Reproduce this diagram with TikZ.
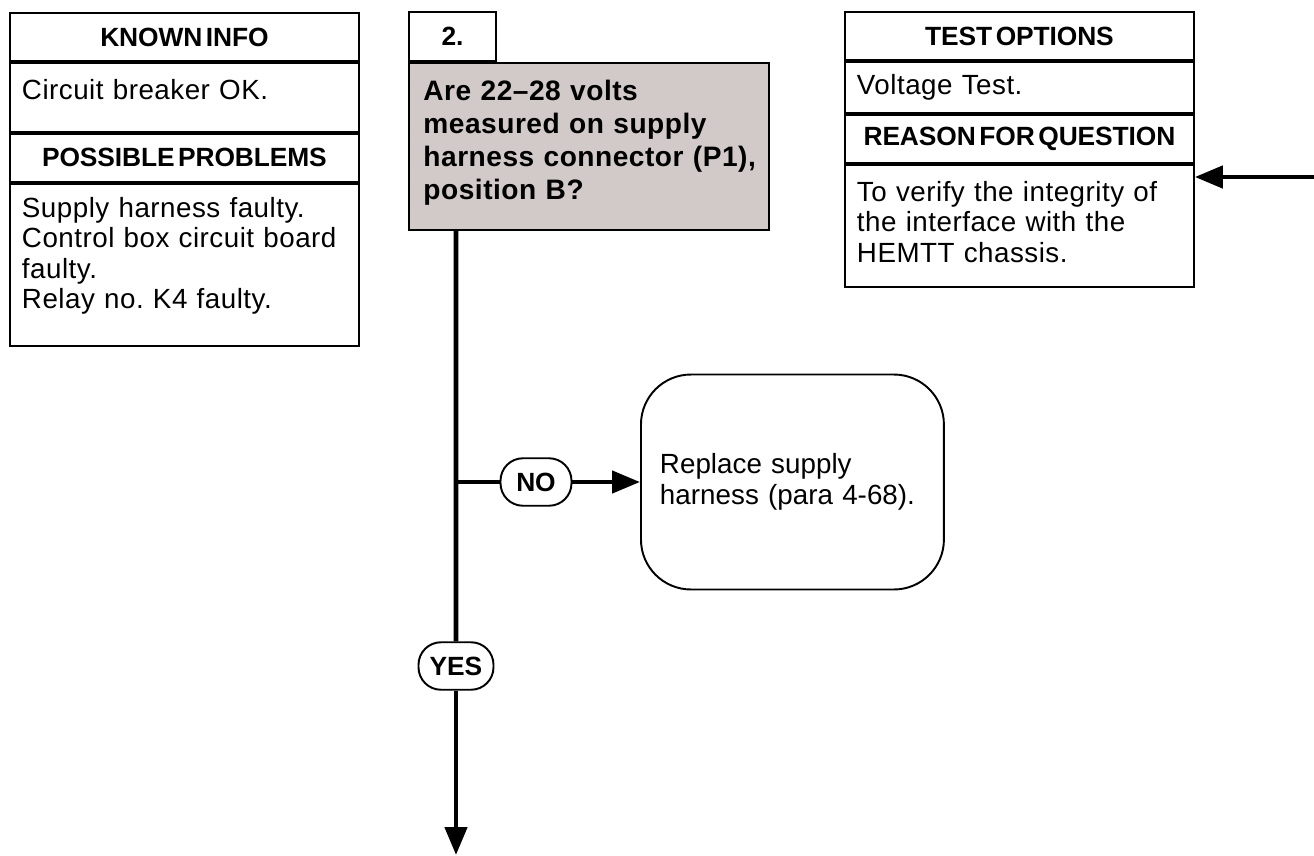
\documentclass[tikz,border=0pt]{standalone}
\usepackage{fontspec}
\setmainfont{Liberation Sans}[LetterSpace=1.8]
\newfontfamily\headfont{Liberation Sans}[WordSpace=0.5, LetterSpace=-0.4]
\newfontfamily\plainfont{Liberation Sans}[LetterSpace=0.1]
\usepackage{tikz}
\usetikzlibrary{positioning,arrows.meta}
\definecolor{qgray}{RGB}{209,202,200}
\frenchspacing

\begin{document}
\begin{tikzpicture}[x=0.02cm, y=-0.02cm, >={Triangle[length=0.56cm,width=0.44cm]},
        cell/.style={draw, line width=1.1pt, minimum width=6.98cm, inner sep=0pt},
        head/.style={cell, minimum height=0.96cm, font=\headfont\bfseries\fontsize{15pt}{18pt}\selectfont},
        body/.style={cell, text width=6.5cm, align=left, font=\fontsize{15.8pt}{17.4pt}\selectfont},
        tag/.style={draw, line width=1.1pt, rounded corners=0.45cm, minimum height=0.95cm, inner sep=0pt, font=\headfont\bfseries\fontsize{15pt}{18pt}\selectfont},
        flow/.style={line width=2.6pt}]
        \useasboundingbox (0,0) rectangle (1314,855);
        \node[head, anchor=north west] (known) at (9,12) {KNOWN INFO};
        \node[body, minimum height=1.38cm, text depth=0.32cm, below=0pt of known] (knownbody) {Circuit breaker OK.};
        \node[head, below=0pt of knownbody] (probs) {POSSIBLE PROBLEMS};
        \node[body, minimum height=3.24cm, text depth=2.3cm, below=0pt of probs] (probsbody) {Supply harness faulty.\\ Control box circuit board\\ faulty.\\ Relay no. K4 faulty.};
        \node[cell, minimum width=1.74cm, minimum height=0.98cm, anchor=north west, font=\headfont\bfseries\fontsize{15pt}{18pt}\selectfont] (num) at (408,11) {2.};
        \node[cell, fill=qgray, minimum width=7.2cm, minimum height=3.34cm, text width=6.62cm, text depth=2.26cm, align=left, anchor=north west, font=\bfseries\fontsize{16pt}{18.8pt}\selectfont] (quest) at (num.south west) {Are 22--28 volts\\ measured on supply\\ harness connector (P1),\\ position B?};
        \node[head, anchor=north west] (test) at (844,11) {TEST OPTIONS};
        \node[body, minimum height=1.02cm, below=0pt of test] (testbody) {Voltage Test.};
        \node[head, below=0pt of testbody] (reason) {REASON FOR QUESTION};
        \node[body, minimum height=2.44cm, text depth=1.39cm, below=0pt of reason] (reasonbody) {To verify the integrity of\\ the interface with the\\ HEMTT chassis.};
        \node[draw, line width=1.1pt, rounded corners=1cm, minimum width=6.06cm, minimum height=4.3cm, text width=5.3cm, align=left, anchor=west, font=\plainfont\fontsize{15.8pt}{17.4pt}\selectfont] (fix) at (640,482) {Replace supply\\ harness (para 4-68).};
        \node[tag, minimum width=1.42cm] (no) at (536,482) {NO};
        \node[tag, minimum width=1.5cm] (yes) at (456,666) {YES};
        \coordinate (stem) at ([xshift=0.96cm]quest.south west);
        \coordinate (down) at (456,855);
        \coordinate (in) at (1314,177);
        \draw[flow] (stem) -- (yes);
        \draw[flow,->] (yes) -- (down);
        \draw[flow] (stem |- no) -- (no);
        \draw[flow,->] (no) -- (fix);
        \draw[flow,->] (in) -- (reasonbody.east |- in);
    \end{tikzpicture}
\end{document}
